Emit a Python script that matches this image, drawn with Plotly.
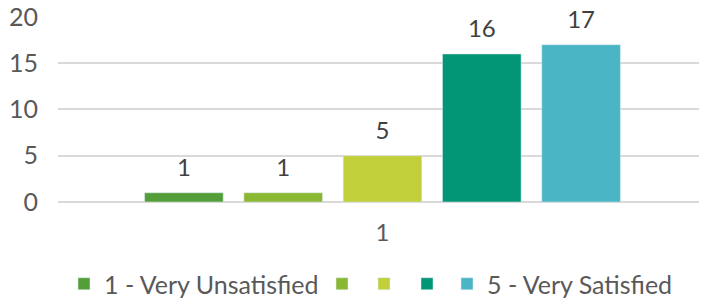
import plotly.graph_objects as go

categories = ["1"]
series_names = ["1 - Very Unsatisfied", "", "", "", "5 - Very Satisfied"]
series_values = [1, 1, 5, 16, 17]
colors = ["#549E39", "#8AB833", "#C0CF3A", "#029676", "#4AB5C4"]
y_ticks = [0, 5, 10, 15, 20]
legend_x_px = [56, 314, 356, 399, 439]  # left edges of legend entries (figure pixels)

FONT = "Lato, Open Sans, sans-serif"
GRAY = "#595959"
# the page body has an 8px margin, so the figure is sized to fill the rest of the window
W, H = 699, 291
ML, MR, MT, MB = 50, 0, 8, 97
PW = W - ML - MR
PH = H - MT - MB

fig = go.Figure()
for i, (name, val, col) in enumerate(zip(series_names, series_values, colors)):
    lg = "legend" if i == 0 else f"legend{i+1}"
    fig.add_trace(go.Bar(
        x=categories, y=[val], name=name, marker_color=col,
        text=[f"<span style='font-size:24px'>{val}</span><br>&nbsp;"],
        textposition="outside", cliponaxis=False, constraintext="none",
        textfont=dict(family=FONT, size=9, color="#404040"),
        legend=lg, showlegend=True,
    ))

legend_y = (MT + PH - 276) / PH
layout_legends = {}
for i, px in enumerate(legend_x_px):
    lg = "legend" if i == 0 else f"legend{i+1}"
    layout_legends[lg] = dict(
        orientation="h", x=(px - ML) / PW, xanchor="left", y=legend_y, yanchor="middle",
        font=dict(family=FONT, size=25, color=GRAY), itemwidth=30, bgcolor="rgba(0,0,0,0)",
    )

fig.update_layout(
    width=W, height=H,
    margin=dict(l=ML, r=MR, t=MT, b=MB, autoexpand=False),
    paper_bgcolor="white", plot_bgcolor="white",
    barmode="group", bargap=0.235, bargroupgap=0.208,
    font=dict(family=FONT, color=GRAY, size=24),
    showlegend=True,
    xaxis=dict(showgrid=False, showline=False, ticks="", tickfont=dict(size=24, color=GRAY),
               ticklabelstandoff=14, automargin=False),
    yaxis=dict(range=[0, 20.1], tickvals=y_ticks, showgrid=True, gridcolor="#d9d9d9", gridwidth=1.5,
               zeroline=True, zerolinecolor="#d9d9d9", zerolinewidth=1.5, automargin=False,
               ticklabeloverflow="allow",
               tickfont=dict(size=25, color=GRAY), ticklabelstandoff=19),
    **layout_legends,
)

fig.write_html("out.html")
